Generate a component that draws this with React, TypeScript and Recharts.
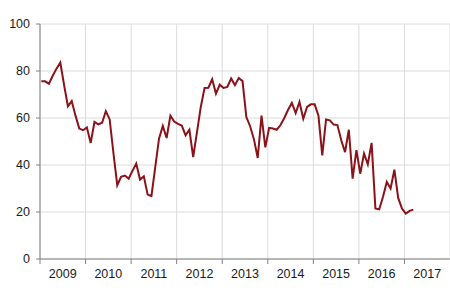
import React from "react";
import { LineChart, Line, XAxis, YAxis, CartesianGrid } from "recharts";

const years = ["2009", "2010", "2011", "2012", "2013", "2014", "2015", "2016", "2017"];
const yTicks = [0, 20, 40, 60, 80, 100];

// Monthly values, Jan 2009 .. Mar 2017
const values2009 = [75.6, 75.6, 74.6, 78, 81, 83.6, 74, 65, 67.2, 61, 55.5, 54.8];
const values2010 = [56, 49.4, 58.3, 57.3, 58, 62.9, 59.4, 45, 31.4, 35, 35.5, 34.2];
const values2011 = [37.5, 40.6, 33.8, 35.2, 27.4, 26.8, 39, 51.2, 56.6, 51.5, 61, 58.5];
const values2012 = [57.5, 56.8, 52.6, 55, 43.4, 54, 64.7, 72.8, 72.9, 76.5, 70.4, 74.2];
const values2013 = [72.8, 73.2, 76.8, 74, 77, 75.7, 60.4, 56.5, 51, 43, 61, 47.5];
const values2014 = [55.8, 55.5, 55, 57, 60, 63.5, 66.4, 62.1, 66.8, 59.7, 64.7, 65.8];
const values2015 = [65.8, 61, 44.1, 59.4, 59, 57.2, 57, 50.5, 45.5, 55, 34.2, 46.3];
const values2016 = [36.3, 44.9, 40.3, 49.4, 21.5, 21.1, 26.5, 32.8, 30, 38, 26, 21.5];
const values2017 = [19.3, 20.5, 21];

const allValues = [
  ...values2009, ...values2010, ...values2011, ...values2012, ...values2013,
  ...values2014, ...values2015, ...values2016, ...values2017,
];

const data = allValues.map((v, i) => ({ m: i + 0.35, v }));
const yearTicks = years.map((_, k) => k * 12);

const W = 450;
const H = 291;
const LEFT = 40;
const RIGHT_MARGIN = 0;
const YEAR_PX = (W - LEFT - RIGHT_MARGIN) / years.length;
const FONT = "'Liberation Sans', Arial, sans-serif";

const YearTick = (props: any) => {
  const { x, y, payload } = props;
  const idx = Math.round(payload.value / 12);
  return (
    <text
      x={x + YEAR_PX / 2}
      y={y}
      dy="0.71em"
      textAnchor="middle"
      fill="#1a1a1a"
      fontSize={12.5}
      fontFamily={FONT}
    >
      {years[idx]}
    </text>
  );
};

export default function App() {
  return (
    <div style={{ position: "absolute", left: 0, top: 0, background: "#fff" }}>
      <LineChart
        width={W}
        height={H}
        data={data}
        margin={{ top: 24, right: RIGHT_MARGIN, left: 0, bottom: 0 }}
      >
        <CartesianGrid stroke="#dcdcdc" strokeWidth={1} />
        <XAxis
          dataKey="m"
          type="number"
          domain={[0, 108]}
          ticks={yearTicks}
          interval={0}
          height={32}
          tickSize={5}
          tickMargin={5}
          tick={<YearTick />}
          stroke="#808080"
          allowDataOverflow
        />
        <YAxis
          type="number"
          domain={[0, 100]}
          ticks={yTicks}
          interval={0}
          width={LEFT}
          tickSize={4}
          tickMargin={6}
          stroke="#808080"
          tick={{ fill: "#1a1a1a", fontSize: 12.5, fontFamily: FONT }}
        />
        <Line
          type="linear"
          dataKey="v"
          stroke="#8a1219"
          strokeWidth={2}
          dot={false}
          isAnimationActive={false}
        />
      </LineChart>
    </div>
  );
}
